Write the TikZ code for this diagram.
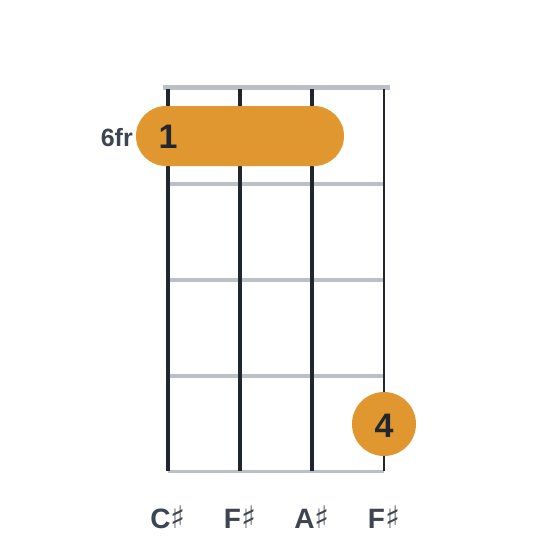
\documentclass[tikz,border=0pt]{standalone}
\usepackage{fontspec}
\setmainfont{Liberation Sans}
\newfontfamily\symfont{DejaVu Sans}
\definecolor{fretgray}{HTML}{BBC0C7}
\definecolor{stringdark}{HTML}{21262D}
\definecolor{dotorange}{HTML}{E1972F}
\definecolor{numdark}{HTML}{22272E}
\definecolor{labelgray}{HTML}{3C4550}
\newcommand{\shp}{{\symfont\mdseries\fontsize{31}{31}\selectfont ♯}}
\begin{document}
\begin{tikzpicture}[x=1pt,y=-1pt,
  fretline/.style={draw=fretgray,line width=3.6pt},
  stringline/.style={draw=stringdark},
  fingernum/.style={font=\fontsize{34}{34}\selectfont\bfseries,text=numdark,anchor=base,inner sep=0pt},
  notelabel/.style={font=\fontsize{28}{28}\selectfont\bfseries,text=labelgray,anchor=base,inner sep=0pt},
  fretlabel/.style={font=\fontsize{25}{25}\selectfont\bfseries,text=labelgray,anchor=base east,inner sep=0pt}]
\useasboundingbox (0,0) rectangle (560,560);
\fill[white] (0,0) rectangle (560,560);
% nut and frets
\coordinate (n1) at (163,87.5);
\coordinate (n2) at (390,87.5);
\draw[draw=fretgray,line width=5pt] (n1) -- (n2);
\foreach \y/\n in {184/a,280/b,376/c,471.5/d}{
  \coordinate (f\n l) at (168,\y);
  \coordinate (f\n r) at (384,\y);
  \draw[fretline] (f\n l) -- (f\n r);
}
% strings
\foreach \x/\w/\n in {168/4.5/1,240/3.8/2,312/3.2/3,384/2.6/4}{
  \coordinate (s\n t) at (\x,89);
  \coordinate (s\n b) at (\x,471);
  \draw[stringline,line width=\w pt] (s\n t) -- (s\n b);
}
% barre
\fill[dotorange,rounded corners=30pt] (136,106) rectangle (344,166);
\node[fingernum] (one) at (168,148) {1};
\node[fretlabel] (fr) at (133,146) {6fr};
% dot
\fill[dotorange] (384,424) circle (32);
\node[fingernum] (four) at (384,437.5) {4};
% labels
\node[notelabel] (l1) at (168,528) {C\shp};
\node[notelabel] (l2) at (240,528) {F\shp};
\node[notelabel] (l3) at (312,528) {A\shp};
\node[notelabel] (l4) at (384,528) {F\shp};
\end{tikzpicture}
\end{document}
